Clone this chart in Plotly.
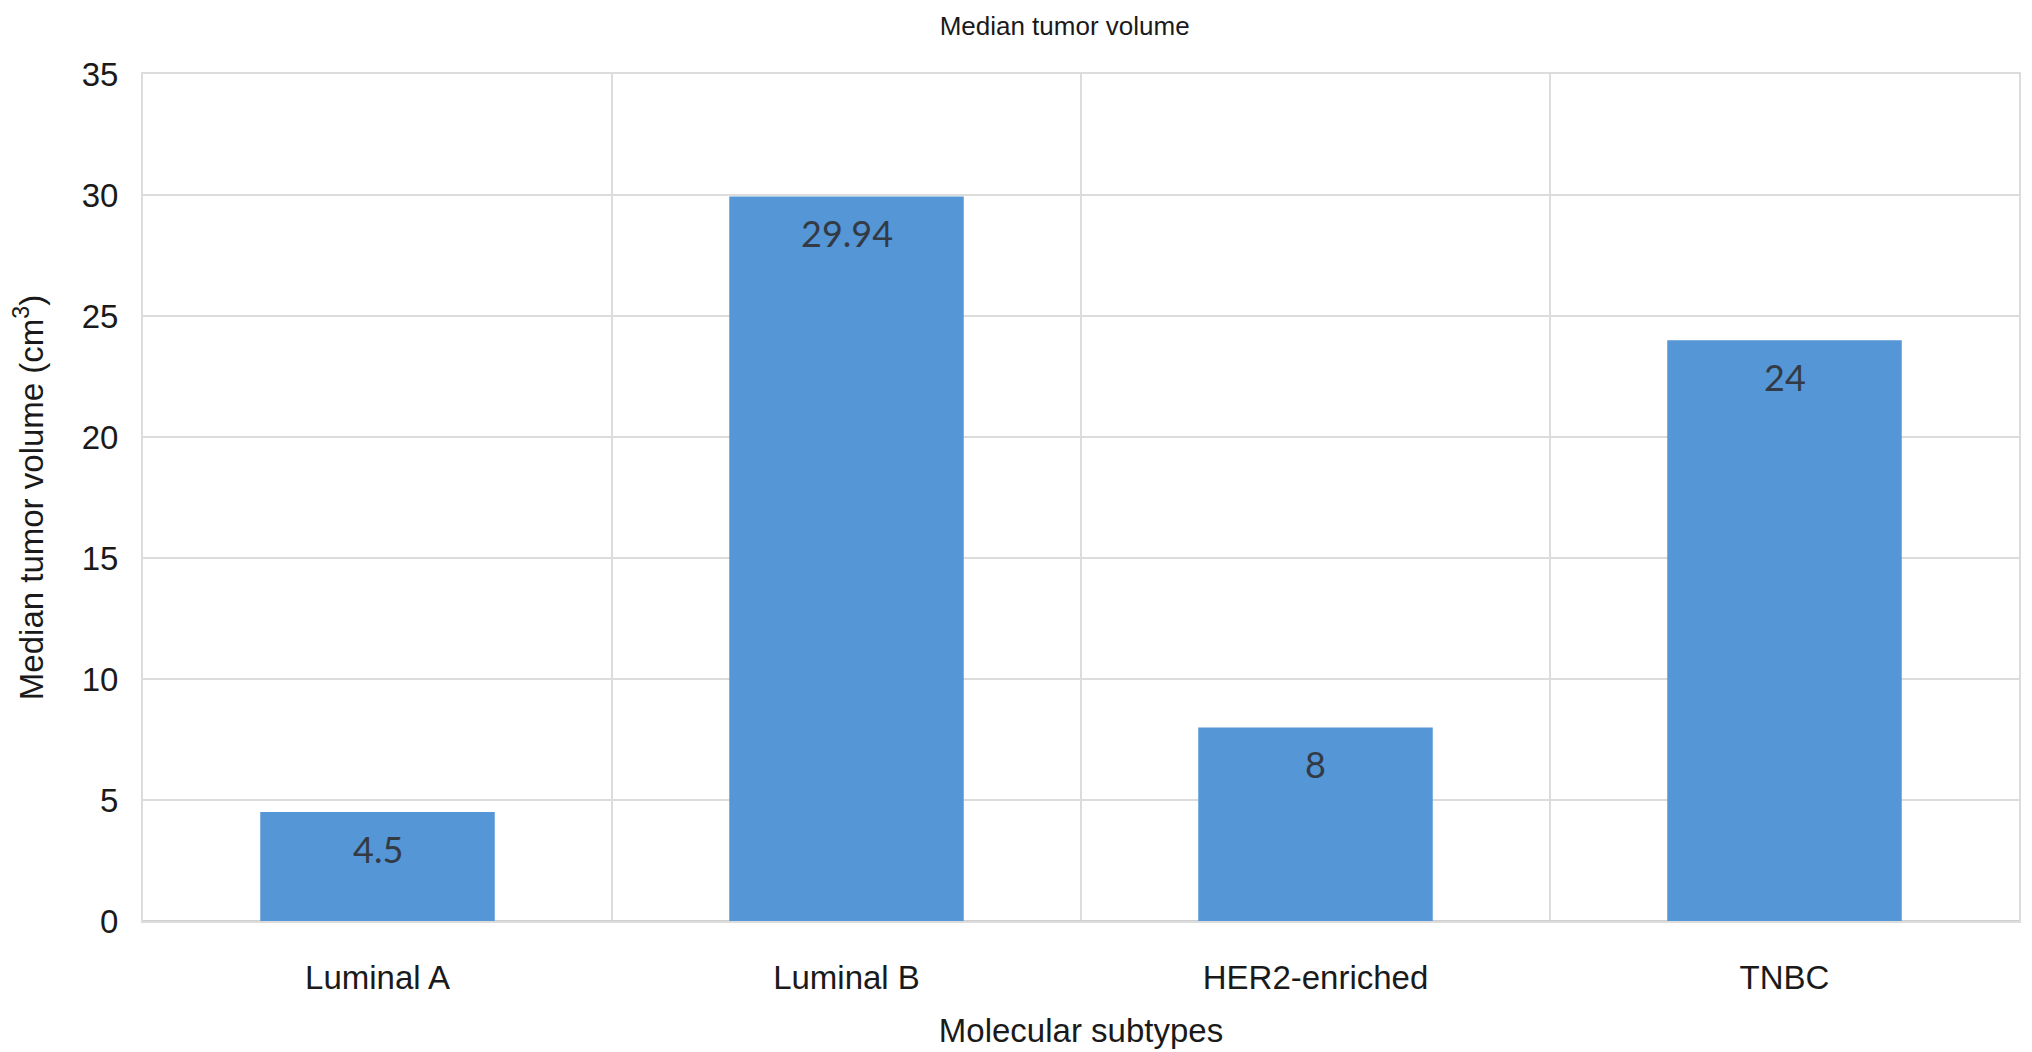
import plotly.graph_objects as go

categories = ["Luminal A", "Luminal B", "HER2-enriched", "TNBC"]
values = [4.5, 29.94, 8, 24]
value_labels = ["4.5", "29.94", "8", "24"]
y_ticks = [0, 5, 10, 15, 20, 25, 30, 35]

TICK_FONT = dict(family="Liberation Sans, Arial, sans-serif", size=33, color="#1a1a1a")
TITLE_FONT = dict(family="Liberation Sans, Arial, sans-serif", size=33, color="#1a1a1a")
GRID = "#DCDCDC"

fig = go.Figure()
fig.add_trace(go.Bar(
    x=categories,
    y=values,
    width=0.5,
    marker=dict(color="#5596D6", line=dict(width=0)),
    hoverinfo="x+y",
))

for cat, val, lab in zip(categories, values, value_labels):
    fig.add_annotation(
        x=cat, y=val, text=lab, showarrow=False,
        xref="x", yref="y", yanchor="middle", yshift=-37,
        font=dict(family="Lato, Open Sans, sans-serif", size=36, color="#333a44"),
    )

fig.update_layout(
    width=2032, height=1052,
    margin=dict(l=135, r=21, t=66, b=139, autoexpand=False),
    paper_bgcolor="white",
    plot_bgcolor="white",
    showlegend=False,
    bargap=0.5,
    title=dict(
        text="Median tumor volume",
        x=0.52, xanchor="center", y=0.983, yanchor="middle",
        font=dict(family="Liberation Sans, Arial, sans-serif", size=26, color="#1a1a1a"),
    ),
    xaxis=dict(
        type="category",
        tickson="boundaries",
        showgrid=True, gridcolor=GRID, gridwidth=2,
        showline=True, mirror=True, linecolor=GRID, linewidth=2,
        zeroline=False,
        ticks="", ticklabelstandoff=26,
        tickfont=TICK_FONT,
        title=dict(text="Molecular subtypes", font=TITLE_FONT, standoff=24),
        automargin=False,
    ),
    yaxis=dict(
        range=[0, 35],
        tickvals=y_ticks,
        showgrid=True, gridcolor=GRID, gridwidth=2,
        showline=True, mirror=True, linecolor=GRID, linewidth=2,
        zeroline=True, zerolinecolor="#D0D0D0", zerolinewidth=2,
        ticks="", ticklabelstandoff=16,
        tickfont=TICK_FONT,
        title=dict(text="Median tumor volume (cm<sup>3</sup>)", font=TITLE_FONT, standoff=30),
        automargin=False,
    ),
)

fig.write_html("out.html")
